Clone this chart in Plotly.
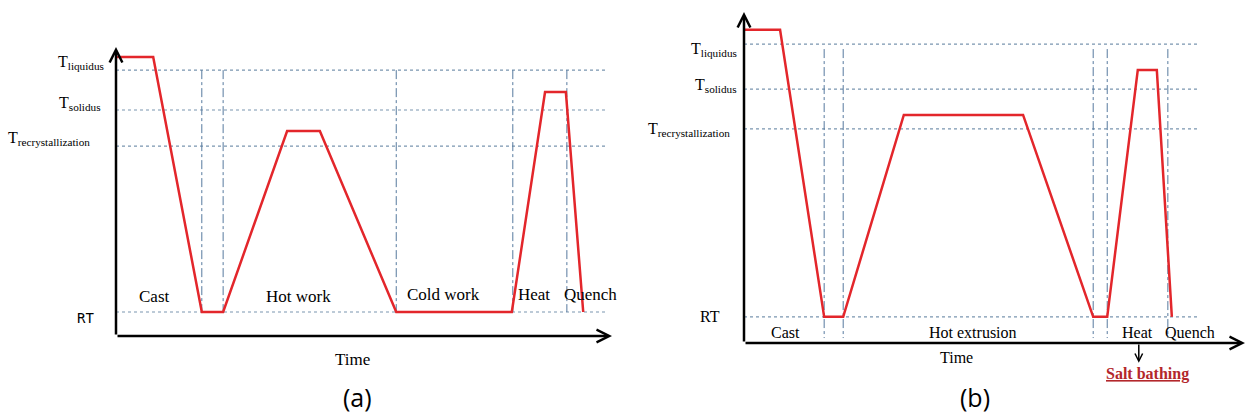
import plotly.graph_objects as go

# ---------------- data (schematic units: time 0-100, temperature 0-100) ----------------
# Panel (a): conventional route
a_time = [0, 7.5, 17.3, 21.6, 34.5, 41.1, 56.5, 79.8, 86.5, 90.7, 94.2]
a_temp = [96.5, 96.5, 8.3, 8.3, 70.9, 70.9, 8.3, 8.3, 84.4, 84.4, 8.3]
a_level_names = ["liquidus", "solidus", "recrystallization", "RT"]
a_level_values = [92.0, 78.2, 65.7, 8.3]
a_stage_bounds = [17.3, 21.6, 56.5, 80.0, 90.9]
a_stage_labels = ["Cast", "Hot work", "Cold work", "Heat", "Quench"]

# Panel (b): salt-bath route
b_time = [0, 7.2, 16.0, 19.8, 31.9, 55.7, 69.7, 72.5, 78.6, 82.4, 85.4]
b_temp = [94.6, 94.6, 7.9, 7.9, 68.9, 68.9, 7.9, 7.9, 82.5, 82.5, 7.9]
b_level_names = ["liquidus", "solidus", "recrystallization", "RT"]
b_level_values = [90.3, 76.7, 64.7, 7.9]
b_stage_bounds = [16.0, 19.8, 69.7, 72.5, 84.6]
b_stage_labels = ["Cast", "Hot extrusion", "Heat", "Quench"]

x_label = "Time"
panel_labels = ["(a)", "(b)"]
note_label = "Salt bathing"

# ---------------- styling / layout ----------------
W, H = 1247, 418
RED = "#E3262B"
DOT = "#7A95B0"
DASH = "#56799E"
SERIF = "Liberation Serif"

DOM = {
    "x": [116 / W, 612 / W],
    "y": [1 - 336 / H, 1 - 47 / H],
    "x2": [744 / W, 1245 / W],
    "y2": [1 - 343 / H, 1 - 12 / H],
}
RANGE = [0, 100]


def to_paper(axis, v):
    d0, d1 = DOM[axis]
    return d0 + (d1 - d0) * (v - RANGE[0]) / (RANGE[1] - RANGE[0])


def level_text(name):
    if name == "RT":
        return name
    return "T<sub>%s</sub>" % name


fig = go.Figure()


def add_line(xs, ys, xa, ya, color, width, dash="solid"):
    fig.add_trace(go.Scatter(x=xs, y=ys, xaxis=xa, yaxis=ya, mode="lines",
                             line=dict(color=color, width=width, dash=dash),
                             hoverinfo="skip", showlegend=False))


# Panel (a)
for v in a_level_values:
    add_line([0, 99.2], [v, v], "x", "y", DOT, 1.2, "dot")
for b in a_stage_bounds:
    add_line([b, b], [a_level_values[0], a_level_values[-1]], "x", "y", DASH, 1, "dashdot")
add_line(a_time, a_temp, "x", "y", RED, 2.5)

# Panel (b)
for v in b_level_values:
    add_line([0, 91.0], [v, v], "x2", "y2", DOT, 1.2, "dot")
for b in b_stage_bounds:
    add_line([b, b], [88.8, 1.5], "x2", "y2", DASH, 1, "dashdot")
add_line(b_time, b_temp, "x2", "y2", RED, 2.5)

ann = []


def arrow(xa, ya, x0, y0, x1, y1, width=2.5):
    ann.append(dict(xref="paper", yref="paper", axref="pixel", ayref="pixel",
                    x=to_paper(xa, x1), y=to_paper(ya, y1),
                    ax=(to_paper(xa, x0) - to_paper(xa, x1)) * W,
                    ay=-(to_paper(ya, y0) - to_paper(ya, y1)) * H,
                    text="", showarrow=True, arrowhead=5, arrowsize=1,
                    arrowwidth=width, arrowcolor="black", standoff=0, startstandoff=0))


def text(xa, ya, x, y, t, size, xanchor="center", font=SERIF, color="black", extra=None):
    f = dict(family=font, size=size, color=color)
    if extra:
        f.update(extra)
    ann.append(dict(xref="paper", yref="paper", x=to_paper(xa, x), y=to_paper(ya, y),
                    text=t, showarrow=False, xanchor=xanchor, yanchor="middle", font=f))


# axes with arrows
arrow("x", "y", 0, 0, 0, 100)
arrow("x", "y", 0, 0, 100, 0)
arrow("x2", "y2", 0, 0, 0, 100)
arrow("x2", "y2", 0, 0, 100, 0)

# level labels (a)
a_lab_x = [-2.0, -2.6, -4.8, -4.0]
a_lab_y = [94.5, 80.6, 68.5, 6.2]
for name, lx, ly in zip(a_level_names, a_lab_x, a_lab_y):
    if name == "RT":
        text("x", "y", lx, ly, name, 14, xanchor="right", font="DejaVu Sans Mono")
    else:
        text("x", "y", lx, ly, level_text(name), 16, xanchor="right")

# level labels (b)
b_lab_x = [-1.0, -1.0, -2.4, -4.4]
b_lab_y = [88.8, 77.8, 64.4, 7.9]
for name, lx, ly in zip(b_level_names, b_lab_x, b_lab_y):
    text("x2", "y2", lx, ly, level_text(name), 16, xanchor="right")

# stage labels (a)
for t, lx, ly in zip(a_stage_labels, [7.7, 36.7, 66.1, 84.3, 95.6], [13.5, 13.5, 14.2, 14.2, 14.2]):
    text("x", "y", lx, ly, t, 17)
# stage labels (b)
for t, lx in zip(b_stage_labels, [8.2, 45.7, 78.6, 89.0]):
    text("x2", "y2", lx, 3.3, t, 16)

# axis titles
text("x", "y", 47.6, -8.0, x_label, 17)
text("x2", "y2", 42.5, -4.5, x_label, 16)

# salt bathing note
arrow("x2", "y2", 78.8, 0, 78.8, -6.0, width=1.5)
text("x2", "y2", 80.6, -9.5, "<b>" + note_label + "</b>", 16, color="#B3272B",
     extra=dict(lineposition="under"))

# panel labels
text("x", "y", 48.6, -21.0, panel_labels[0], 25, font="Open Sans")
text("x2", "y2", 46.1, -16.3, panel_labels[1], 25, font="Open Sans")

fig.update_layout(
    width=W, height=H, margin=dict(l=0, r=0, t=0, b=0),
    paper_bgcolor="white", plot_bgcolor="white", showlegend=False,
    xaxis=dict(domain=DOM["x"], range=RANGE, visible=False, fixedrange=True),
    yaxis=dict(domain=DOM["y"], range=RANGE, visible=False, anchor="x", fixedrange=True),
    xaxis2=dict(domain=DOM["x2"], range=RANGE, visible=False, anchor="y2", fixedrange=True),
    yaxis2=dict(domain=DOM["y2"], range=RANGE, visible=False, anchor="x2", fixedrange=True),
    annotations=ann,
)

fig.write_html("out.html", config={"displayModeBar": False},
               post_script="document.body.style.margin='0';document.body.style.overflow='hidden';")
